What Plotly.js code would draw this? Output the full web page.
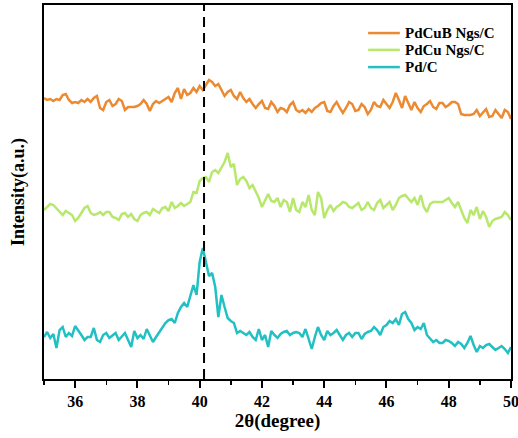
<!DOCTYPE html>
<html>
<head>
<meta charset="utf-8">
<script src="https://cdn.plot.ly/plotly-3.0.1.min.js"></script>
<style>html,body{margin:0;padding:0;background:#fff;}#chart{width:518px;height:438px;}</style>
</head>
<body>
<div id="chart"></div>
<script>
// 2θ from 35 to 50 in 0.1° steps (151 points)
const twoThetaStart = 35;
const twoThetaStep = 0.1;

const seriesNames = ["PdCuB Ngs/C", "PdCu Ngs/C", "Pd/C"];
const seriesColors = ["#EC8A32", "#B7E86C", "#22C0C3"];

const pdcubNgs = [
302,300,301,299,301,300,305,306,300,297,
298,297,300,298,301,298,302,304,292,290,
298,300,294,296,301,299,290,293,293,293,
294,296,300,296,289,296,299,297,299,301,
303,298,307,312,301,311,305,307,312,308,
314,310,315,320,318,314,316,310,304,308,
310,304,301,308,302,298,301,296,292,296,
299,292,291,298,294,288,292,291,288,295,
298,290,288,290,287,291,288,292,294,297,
298,289,288,294,298,292,287,292,298,296,
289,290,296,293,286,290,298,294,293,300,
296,292,298,307,300,292,304,296,290,298,
292,288,294,296,299,293,291,297,297,293,
295,298,298,296,286,285,285,285,286,290,
284,287,291,283,284,290,286,282,290,288,
281];

const pdcuNgs = [
190,193,196,195,192,188,185,189,187,185,
179,182,187,192,194,187,185,186,188,185,
188,188,183,182,180,186,187,183,186,181,
179,185,187,188,185,191,189,187,192,193,
189,198,192,194,197,194,196,198,208,207,
219,222,223,218,228,230,227,232,238,247,
233,236,215,221,223,219,212,215,208,202,
193,199,206,199,198,202,193,200,198,188,
202,190,188,198,193,205,190,185,208,202,
182,190,195,189,193,195,198,197,193,192,
195,197,190,192,198,192,190,197,200,192,
195,198,190,195,202,204,205,202,198,202,
195,205,193,188,196,198,198,198,198,200,
202,197,193,198,190,182,177,190,185,193,
181,189,183,173,179,181,182,183,188,185,
180];

const pdC = [
63,68,62,66,52,70,73,63,67,64,
74,70,65,60,63,63,72,60,58,65,
67,62,65,67,60,63,67,60,53,69,
62,65,61,71,65,58,63,68,73,77,
80,81,77,87,93,97,93,105,115,105,
138,152,138,124,127,113,83,105,93,82,
79,77,67,69,67,65,68,63,60,71,
60,65,53,69,65,62,66,68,69,65,
67,68,67,63,71,60,51,63,73,65,
60,69,65,67,70,65,60,65,67,63,
67,67,61,66,68,69,73,70,65,73,
75,79,77,81,75,86,88,81,77,70,
73,71,77,65,62,58,60,57,57,60,
59,57,54,58,56,52,57,64,55,48,
54,52,55,56,53,50,52,54,51,47,
53];

const referenceLine = 40.14;
const xTickVals = [36, 38, 40, 42, 44, 46, 48, 50];

const seriesValues = [pdcubNgs, pdcuNgs, pdC];
const twoTheta = pdC.map((_, i) => +(twoThetaStart + i * twoThetaStep).toFixed(2));

const serif = "Liberation Serif, Times New Roman, serif";

const traces = seriesValues.map((vals, k) => ({
  type: "scatter",
  mode: "lines",
  x: twoTheta,
  y: vals,
  name: seriesNames[k],
  showlegend: false,
  line: { color: seriesColors[k], width: 2.5 }
}));

// legend drawn as paper-positioned line samples + labels
const legendRowsY = [0.925, 0.880, 0.834];
const legendLineX = [0.694, 0.762];
const legendTextX = 0.768;

const shapes = [{
  type: "line",
  xref: "x", yref: "paper",
  x0: referenceLine, x1: referenceLine,
  y0: 0, y1: 1,
  line: { color: "#000", width: 2, dash: "10px,6px" }
}];
const annotations = [];
seriesNames.forEach((nm, k) => {
  shapes.push({
    type: "line", xref: "paper", yref: "paper",
    x0: legendLineX[0], x1: legendLineX[1],
    y0: legendRowsY[k], y1: legendRowsY[k],
    line: { color: seriesColors[k], width: 2.5 }
  });
  annotations.push({
    xref: "paper", yref: "paper",
    x: legendTextX, y: legendRowsY[k],
    xanchor: "left", yanchor: "middle",
    text: nm, showarrow: false,
    font: { family: serif, size: 15, color: "#000", weight: "bold" }
  });
});

const layout = {
  width: 518,
  height: 438,
  margin: { l: 44, r: 7, t: 5, b: 59 },
  paper_bgcolor: "#fff",
  plot_bgcolor: "#fff",
  showlegend: false,
  xaxis: {
    range: [35, 50],
    tickvals: xTickVals,
    ticktext: xTickVals.map(String),
    ticks: "outside",
    ticklen: 7,
    tickwidth: 2,
    tickcolor: "#000",
    ticklabeloverflow: "allow",
    minor: { dtick: 1, tick0: 35, ticks: "outside", ticklen: 4, tickwidth: 1.5, tickcolor: "#000" },
    showline: true,
    linecolor: "#000",
    linewidth: 2,
    mirror: true,
    showgrid: false,
    zeroline: false,
    tickfont: { family: serif, size: 16, color: "#000", weight: "bold" },
    title: { text: "2θ(degree)", font: { family: serif, size: 19, color: "#000", weight: "bold" }, standoff: 4 }
  },
  yaxis: {
    range: [21, 395],
    showticklabels: false,
    ticks: "",
    showline: true,
    linecolor: "#000",
    linewidth: 2,
    mirror: true,
    showgrid: false,
    zeroline: false,
    title: { text: "Intensity(a.u.)", font: { family: serif, size: 18, color: "#000", weight: "bold" }, standoff: 13 }
  },
  shapes: shapes,
  annotations: annotations
};

Plotly.newPlot("chart", traces, layout, { displayModeBar: false, staticPlot: true });
</script>
</body>
</html>
